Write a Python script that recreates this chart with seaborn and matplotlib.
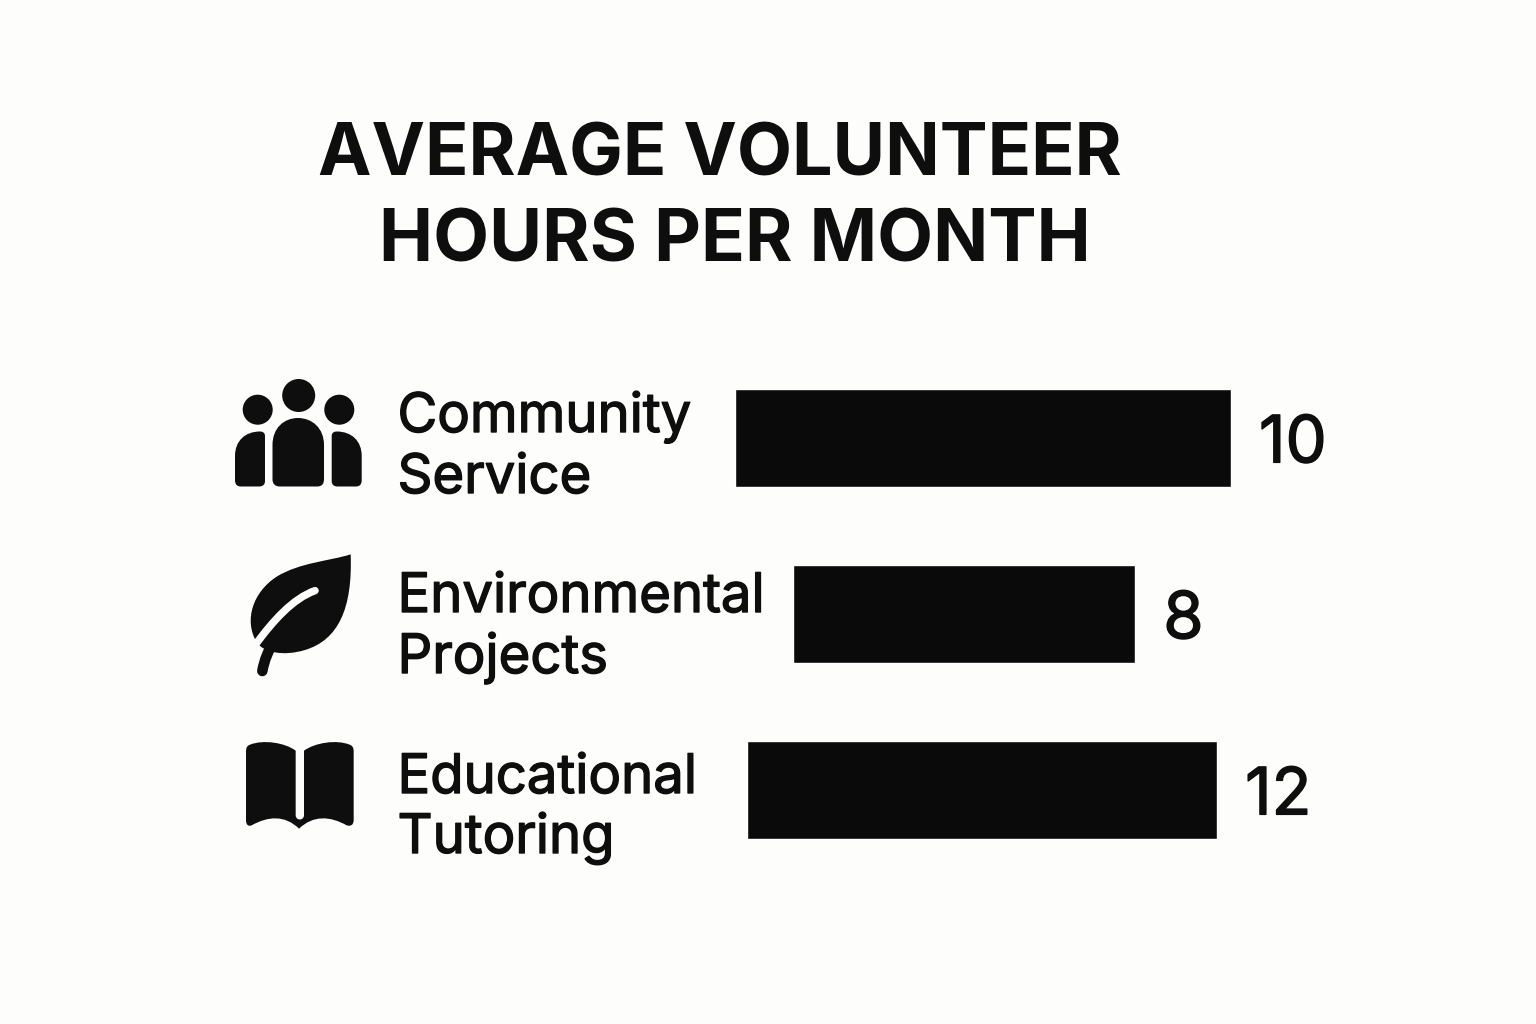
"""
Average volunteer hours per month - icon bar chart
"""

import pandas as pd
import matplotlib.pyplot as plt
import matplotlib.patheffects as pe
import seaborn as sns
from matplotlib.patches import Circle, PathPatch
from matplotlib.path import Path

# ── Data ──────────────────────────────────
categories = ["Community Service", "Environmental Projects", "Educational Tutoring"]
label_lines = [["Community", "Service"], ["Environmental", "Projects"], ["Educational", "Tutoring"]]
printed_values = [10, 8, 12]
# the picture's bars do not follow the printed numbers, so what is drawn is kept apart
# (units: the Community Service bar is 10 long)
bar_lengths = [10.0, 6.9, 9.48]
bar_starts = [0.0, 1.17, 0.24]
title_lines = ["AVERAGE VOLUNTEER", "HOURS PER MONTH"]

INK = "#0D0E0D"
BAR_INK = "#090A09"
PAPER = "#FDFDFB"
FONT = "Inter"

W, H = 1536, 1024
PX_PER_UNIT = 49.6

M, L, C, Z = Path.MOVETO, Path.LINETO, Path.CURVE4, Path.CLOSEPOLY


def fill_path(ax, verts, codes):
    ax.add_patch(PathPatch(Path(verts, codes), fc=INK, ec="none"))


def draw_people(ax):
    for cx, cy, r in [(298.7, 395.5, 16.5), (257.7, 409.7, 15), (339.3, 409.7, 15)]:
        ax.add_patch(Circle((cx, cy), r, fc=INK, ec="none"))
    # middle body
    verts = [(272.5, 479), (272.5, 484), (275, 486.5), (280, 486.5), (317, 486.5),
             (322, 486.5), (324, 484), (324, 479), (324, 445),
             (324, 428), (312, 418), (298, 418), (284, 418), (272.5, 428), (272.5, 445),
             (272.5, 479)]
    codes = [M, C, C, C, L, C, C, C, L, C, C, C, C, C, C, Z]
    fill_path(ax, verts, codes)
    # side bodies, mirrored about the middle
    left = [(235, 480), (235, 484.5), (237, 486.5), (241, 486.5), (259, 486.5),
            (263, 486.5), (265, 484.5), (265, 481), (265, 436),
            (265, 433), (263, 431.5), (260, 431.5), (245, 431.5), (235, 441), (235, 456),
            (235, 480)]
    fill_path(ax, left, codes)
    fill_path(ax, [(596.7 - x, y) for x, y in left], codes)


def draw_leaf(ax):
    def p(x, y):
        return (230 + x / 3, 545 + y / 3)

    verts = [p(362, 28), p(300, 48), p(210, 52), p(140, 95), p(70, 140), p(40, 225), p(80, 292),
             p(100, 322), p(160, 335), p(225, 315), p(325, 285), p(368, 190), p(362, 28), p(362, 28)]
    fill_path(ax, verts, [M] + [C] * 12 + [Z])
    # white vein, then the stem over it
    vein = [p(255, 137), p(190, 160), p(130, 225), p(72, 305)]
    ax.add_patch(PathPatch(Path(vein, [M, C, C, C]), fc="none", ec=PAPER, lw=5.4, capstyle="round"))
    stem = [p(135, 285), p(115, 315), p(103, 345), p(97, 378)]
    ax.add_patch(PathPatch(Path(stem, [M, C, C, C]), fc="none", ec=INK, lw=7.6, capstyle="round"))


def draw_book(ax):
    def p(x, y):
        return (230 + x / 3, 730 + y / 3)

    verts = [p(197, 62),
             p(165, 38), p(100, 28), p(60, 44),
             p(52, 47), p(48, 52), p(48, 65),
             p(48, 270),
             p(48, 285), p(55, 290), p(65, 286),
             p(115, 258), p(165, 255), p(207, 296),
             p(250, 255), p(300, 258), p(350, 286),
             p(362, 290), p(371, 285), p(371, 270),
             p(371, 65),
             p(371, 52), p(367, 47), p(359, 44),
             p(320, 28), p(255, 38), p(222, 62),
             p(222, 255),
             p(222, 273), p(197, 273), p(197, 255),
             p(197, 62)]
    codes = [M, C, C, C, C, C, C, L, C, C, C, C, C, C, C, C, C, C, C, C, L,
             C, C, C, C, C, C, L, C, C, C, Z]
    fill_path(ax, verts, codes)


# ─────────────────────────────────────────────
#  Figure
# ─────────────────────────────────────────────

sns.set_theme(style="white")
plt.rcParams["font.family"] = [FONT, "DejaVu Sans"]

fig = plt.figure(figsize=(W / 100, H / 100), dpi=100, facecolor=PAPER)
heavier = [pe.withStroke(linewidth=1.0, foreground=INK)]

# bars, through seaborn's own axes
ax = fig.add_axes([0, (H - 878) / H, 1, 528 / H], facecolor="none")
df = pd.DataFrame({"category": categories, "drawn": bar_lengths})
sns.barplot(data=df, x="drawn", y="category", order=categories, color=BAR_INK,
            saturation=1, width=0.555, ax=ax)
ax.set_xlim(-735.2 / PX_PER_UNIT, (W - 735.2) / PX_PER_UNIT)
ax.set_ylim(2.5, -0.5)
ax.set_xlabel("")
ax.set_ylabel("")
ax.set_xticks([])
ax.set_yticks([])
sns.despine(ax=ax, left=True, bottom=True)

for bar, start, length, val, y in zip(ax.patches, bar_starts, bar_lengths, printed_values, range(3)):
    bar.set_x(start)
    ax.text(start + length + 0.56, y + 0.005, str(val), ha="left", va="center_baseline",
            fontsize=47, color=INK, path_effects=heavier)

# overlay in pixel coordinates for text and icons
ov = fig.add_axes([0, 0, 1, 1], facecolor="none")
ov.set_xlim(0, W)
ov.set_ylim(H, 0)
ov.axis("off")

title_pos = [(720, 175, 51.6), (735, 261, 52.2)]
for line, (x, y, size) in zip(title_lines, title_pos):
    ov.text(x, y, line, ha="center", va="baseline", fontsize=size, fontweight="bold", color=INK)

label_baselines = [(432, 493), (612, 673), (793, 853)]
for lines, ys in zip(label_lines, label_baselines):
    for line, y in zip(lines, ys):
        ov.text(397.5, y, line, ha="left", va="baseline", fontsize=39.2, color=INK,
                path_effects=heavier)

draw_people(ov)
draw_leaf(ov)
draw_book(ov)

fig.savefig("out.png", dpi=100, facecolor=PAPER)
plt.close(fig)
